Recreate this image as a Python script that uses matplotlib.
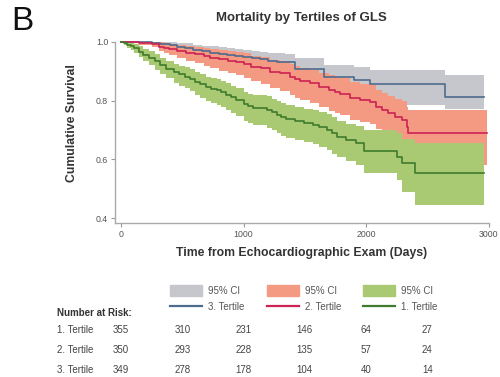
import matplotlib.pyplot as plt
import matplotlib.transforms as mtransforms
from matplotlib.patches import Patch
from matplotlib.lines import Line2D

plt.rcParams['font.family'] = ['Liberation Sans', 'DejaVu Sans']

# 1. Tertile (green)
t1 = [0, 25, 50, 80, 110, 145, 180, 230, 275, 320, 370, 430, 475, 520, 560, 600, 645,
      690, 735, 780, 820, 860, 900, 940, 1000, 1040, 1080, 1190, 1230, 1270, 1310, 1350,
      1420, 1490, 1570, 1620, 1680, 1720, 1760, 1840, 1920, 1980, 2250, 2290, 2400, 2965]
s1 = [1.0, 0.995, 0.99, 0.984, 0.978, 0.966, 0.955, 0.945, 0.933, 0.921, 0.908, 0.896,
      0.889, 0.881, 0.872, 0.864, 0.855, 0.845, 0.84, 0.836, 0.828, 0.82, 0.811, 0.802,
      0.788, 0.781, 0.774, 0.768, 0.76, 0.751, 0.744, 0.736, 0.73, 0.723, 0.717, 0.709,
      0.700, 0.689, 0.677, 0.666, 0.655, 0.628, 0.609, 0.587, 0.555, 0.555]
lo1 = [1.0, 0.988, 0.98, 0.971, 0.962, 0.948, 0.934, 0.92, 0.905, 0.89, 0.875, 0.86,
       0.851, 0.842, 0.831, 0.82, 0.809, 0.798, 0.792, 0.786, 0.777, 0.768, 0.758, 0.748,
       0.732, 0.724, 0.716, 0.708, 0.699, 0.69, 0.681, 0.673, 0.665, 0.658, 0.651, 0.642,
       0.632, 0.62, 0.607, 0.594, 0.582, 0.553, 0.53, 0.49, 0.445, 0.445]
hi1 = [1.0, 1.0, 1.0, 0.997, 0.993, 0.984, 0.975, 0.967, 0.957, 0.946, 0.936, 0.925,
       0.919, 0.913, 0.906, 0.898, 0.89, 0.881, 0.877, 0.873, 0.866, 0.858, 0.85, 0.842,
       0.83, 0.824, 0.818, 0.814, 0.806, 0.798, 0.792, 0.785, 0.779, 0.773, 0.768, 0.761,
       0.753, 0.743, 0.732, 0.722, 0.712, 0.70, 0.69, 0.67, 0.655, 0.655]

# 2. Tertile (red)
t2 = [0, 150, 250, 310, 350, 390, 460, 530, 600, 680, 730, 800, 870, 940, 1000, 1060,
      1140, 1220, 1300, 1380, 1420, 1460, 1540, 1620, 1700, 1750, 1790, 1870, 1950, 2030,
      2080, 2130, 2180, 2240, 2290, 2335, 2345, 2990]
s2 = [1.0, 0.997, 0.992, 0.983, 0.979, 0.975, 0.968, 0.962, 0.957, 0.951, 0.946, 0.94,
      0.935, 0.93, 0.925, 0.915, 0.909, 0.898, 0.892, 0.881, 0.874, 0.866, 0.858, 0.847,
      0.836, 0.83, 0.824, 0.809, 0.802, 0.796, 0.779, 0.768, 0.757, 0.745, 0.734, 0.711,
      0.689, 0.689]
lo2 = [1.0, 0.99, 0.982, 0.968, 0.962, 0.955, 0.945, 0.935, 0.927, 0.918, 0.911, 0.902,
       0.894, 0.886, 0.878, 0.865, 0.857, 0.842, 0.834, 0.82, 0.81, 0.801, 0.791, 0.777,
       0.764, 0.757, 0.75, 0.734, 0.727, 0.722, 0.703, 0.691, 0.678, 0.665, 0.652, 0.627,
       0.58, 0.58]
hi2 = [1.0, 1.0, 1.0, 0.998, 0.996, 0.993, 0.99, 0.986, 0.983, 0.979, 0.975, 0.971,
       0.968, 0.964, 0.96, 0.952, 0.947, 0.938, 0.933, 0.924, 0.918, 0.911, 0.905, 0.895,
       0.886, 0.881, 0.876, 0.863, 0.857, 0.852, 0.837, 0.827, 0.817, 0.806, 0.797, 0.777,
       0.768, 0.768]

# 3. Tertile (blue)
t3 = [0, 120, 250, 318, 400, 454, 520, 590, 660, 726, 800, 863, 930, 999, 1070, 1135,
      1200, 1271, 1340, 1420, 1660, 1900, 2030, 2645, 2965]
s3 = [1.0, 0.998, 0.995, 0.992, 0.988, 0.983, 0.978, 0.972, 0.967, 0.963, 0.959, 0.955,
      0.951, 0.947, 0.944, 0.94, 0.936, 0.932, 0.93, 0.906, 0.881, 0.871, 0.857, 0.813, 0.813]
lo3 = [1.0, 0.994, 0.987, 0.982, 0.976, 0.968, 0.961, 0.953, 0.946, 0.94, 0.935, 0.929,
       0.924, 0.918, 0.914, 0.908, 0.903, 0.897, 0.894, 0.866, 0.837, 0.824, 0.785, 0.771, 0.771]
hi3 = [1.0, 1.0, 1.0, 1.0, 0.999, 0.997, 0.994, 0.99, 0.987, 0.984, 0.981, 0.978, 0.975,
       0.972, 0.969, 0.966, 0.963, 0.96, 0.958, 0.945, 0.921, 0.914, 0.905, 0.887, 0.887]

risk_times = [0, 500, 1000, 1500, 2000, 2500]
risk_labels = ['1. Tertile', '2. Tertile', '3. Tertile']
risk_1 = [355, 310, 231, 146, 64, 27]
risk_2 = [350, 293, 228, 135, 57, 24]
risk_3 = [349, 278, 178, 104, 40, 14]

c_gray, c_salmon, c_lgreen = '#c6c6cd', '#f49a83', '#a9ca72'
c_blue, c_red, c_green = '#4e6b8c', '#cc2352', '#3f7b2c'

fig = plt.figure(figsize=(5, 3.77), dpi=100)
ax = fig.add_axes([115 / 500, (377 - 223) / 377, (488.5 - 115) / 500, (223 - 41.7) / 377])

ax.fill_between(t3, lo3, hi3, step='post', color=c_gray, lw=0, clip_on=False)
ax.fill_between(t2, lo2, hi2, step='post', color=c_salmon, lw=0, clip_on=False)
ax.fill_between(t1, lo1, hi1, step='post', color=c_lgreen, lw=0, clip_on=False)
ax.step(t3, s3, where='post', color=c_blue, lw=1.2, clip_on=False)
ax.step(t2, s2, where='post', color=c_red, lw=1.2, clip_on=False)
ax.step(t1, s1, where='post', color=c_green, lw=1.2, clip_on=False)

ax.set_xlim(-49, 3000)
ax.set_ylim(0.384, 1.0)
ax.set_xticks([0, 1000, 2000, 3000])
ax.set_yticks([0.4, 0.6, 0.8, 1.0])
ax.set_yticklabels(['0.4', '0.6', '0.8', '1.0'])
ax.tick_params(direction='out', length=3, width=0.8, color='#999999',
               labelsize=6.3, labelcolor='#555555', pad=2)
for side in ['top', 'right']:
    ax.spines[side].set_visible(False)
for side in ['left', 'bottom']:
    ax.spines[side].set_color('#aaaaaa')
    ax.spines[side].set_linewidth(1.0)

ax.set_ylabel('Cumulative Survival', fontsize=8.8, fontweight='bold', color='#333333')
ax.yaxis.set_label_coords(-0.10, 0.55)
ax.set_xlabel('Time from Echocardiographic Exam (Days)', fontsize=8.8, fontweight='bold',
              color='#333333', labelpad=6)
fig.text(301 / 500, 1 - 17.5 / 377, 'Mortality by Tertiles of GLS', fontsize=9.5,
         fontweight='bold', color='#333333', ha='center', va='center')
fig.text(11 / 500, 1 - 22 / 377, 'B', fontsize=24, ha='left', va='center', color='#111111')

handles = [Patch(color=c_gray), Line2D([], [], color=c_blue, lw=1.6),
           Patch(color=c_salmon), Line2D([], [], color=c_red, lw=1.6),
           Patch(color=c_lgreen), Line2D([], [], color=c_green, lw=1.6)]
labels = ['95% CI', '3. Tertile', '95% CI', '2. Tertile', '95% CI', '1. Tertile']
leg = fig.legend(handles, labels, ncol=3, loc='upper left',
                 bbox_to_anchor=(170 / 500, 1 - 285 / 377), frameon=False,
                 fontsize=7, handlelength=3.3, handleheight=1.3, handletextpad=0.6,
                 columnspacing=2.3, labelspacing=0.6, borderpad=0, borderaxespad=0)
for txt in leg.get_texts():
    txt.set_color('#555555')

# number at risk table
trans = mtransforms.blended_transform_factory(ax.transData, fig.transFigure)
fig.text(57 / 500, 1 - 313 / 377, 'Number at Risk:', fontsize=7, fontweight='bold',
         color='#333333', va='center')
rows_y = [330, 350, 370]
for lab, vals, yy in zip(risk_labels, [risk_1, risk_2, risk_3], rows_y):
    fig.text(57 / 500, 1 - yy / 377, lab, fontsize=7, color='#444444', va='center')
    for tt, n in zip(risk_times, vals):
        fig.text(tt, 1 - yy / 377, str(n), fontsize=7, color='#444444',
                 ha='center', va='center', transform=trans)

fig.savefig('out.png', dpi=100)
